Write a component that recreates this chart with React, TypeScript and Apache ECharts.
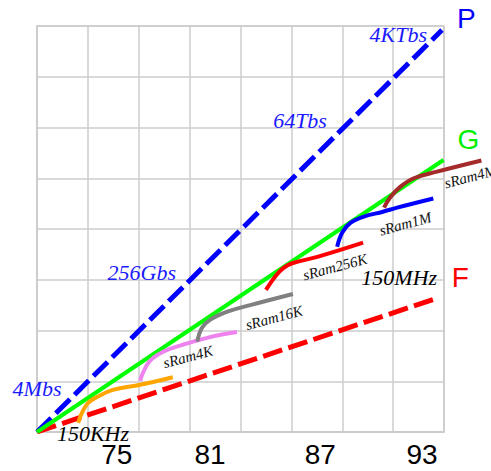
import React, { useEffect, useRef } from "react";
import * as echarts from "echarts";

// Grid coordinates are in "cell" units: 8 x 8 cells.
const pLine = [[0, 0], [7.96, 7.92]];
const gLine = [[0, 0], [7.99, 5.36]];
const fLine = [[0, 0], [7.87, 2.64]];

const orangeCurve = [[0.81, 0.18], [0.88, 0.37], [1.0, 0.57], [1.18, 0.69], [1.49, 0.83], [2.03, 0.93], [2.67, 1.08]];
const violetCurve = [[2.03, 1.01], [2.08, 1.16], [2.22, 1.4], [2.48, 1.58], [2.87, 1.72], [3.4, 1.87], [3.93, 1.97]];
const grayCurve = [[3.15, 1.78], [3.24, 2.05], [3.4, 2.21], [3.74, 2.37], [4.19, 2.5], [5.03, 2.72]];
const redCurve = [[4.5, 2.8], [4.68, 3.06], [4.84, 3.23], [5.03, 3.33], [5.51, 3.45], [6.41, 3.73]];
const blueCurve = [[5.9, 3.65], [6.0, 3.93], [6.16, 4.12], [6.41, 4.24], [6.8, 4.34], [7.08, 4.42], [7.79, 4.6]];
const brownCurve = [[6.88, 4.42], [7.0, 4.62], [7.2, 4.83], [7.47, 5.0], [7.93, 5.13], [8.81, 5.35]];

const tickLabels = ["75", "81", "87", "93"];
const tickPos = [1.57, 3.4, 5.57, 7.57];

const rateLabels = ["4KTbs", "64Tbs", "256Gbs", "4Mbs"];
const rateLabelPos = [[7.1, 7.83], [5.17, 6.13], [2.06, 3.14], [0.0, 0.85]];

const freqLabels = ["150MHz", "150KHz"];
const freqLabelPos = [[7.12, 3.04], [1.1, -0.03]];

const sramLabels = ["sRam4K", "sRam16K", "sRam256K", "sRam1M", "sRam4M"];
const sramLabelPos = [[2.97, 1.48], [4.66, 2.25], [5.86, 3.25], [7.24, 4.1], [8.52, 5.03]];

const letterLabels = ["P", "G", "F"];
const letterLabelPos = [[8.44, 8.15], [8.48, 5.76], [8.32, 3.04]];
const letterColors = ["#0000ff", "#00ee00", "#ff0000"];

const SERIF = "'Liberation Serif', 'Times New Roman', serif";
const SANS = "'Liberation Sans', Arial, sans-serif";

function lineSeries(data: number[][], color: string, dashed: boolean, z: number, gridIndex = 0) {
  return {
    type: "line",
    data,
    xAxisIndex: gridIndex,
    yAxisIndex: gridIndex,
    showSymbol: false,
    symbol: "none",
    smooth: dashed ? false : 0.4,
    clip: false,
    silent: true,
    z,
    lineStyle: {
      color,
      width: dashed ? 5 : 4,
      type: dashed ? [20, 6.5] : "solid",
      cap: "butt",
    },
  };
}

function textSeries(
  labels: string[],
  pos: number[][],
  opts: { color: string | string[]; size: number; family: string; italic: boolean; rotate: number }
) {
  return {
    type: "scatter",
    symbolSize: 0,
    clip: false,
    silent: true,
    z: 20,
    itemStyle: { opacity: 1 },
    data: labels.map((t, i) => ({
      value: pos[i],
      itemStyle: { opacity: 1 },
      label: {
        show: true,
        position: "inside",
        formatter: t,
        color: Array.isArray(opts.color) ? opts.color[i] : opts.color,
        opacity: 1,
        fontSize: opts.size,
        fontFamily: opts.family,
        fontStyle: opts.italic ? "italic" : "normal",
        rotate: opts.rotate,
        align: "center",
        verticalAlign: "middle",
        textBorderWidth: 0,
        textBorderColor: "transparent",
        textShadowBlur: 0,
      },
    })),
  };
}

export default function App() {
  const ref = useRef<HTMLDivElement>(null);
  useEffect(() => {
    if (!ref.current) return;
    const chart = echarts.init(ref.current, null, { renderer: "svg" });
    const axisCommon = {
      type: "value",
      min: 0,
      max: 8,
      interval: 1,
      axisLabel: { show: false },
      axisTick: { show: false },
      axisLine: { show: true, lineStyle: { color: "#cccccc", width: 1.5 } },
      splitLine: { show: true, lineStyle: { color: "#cccccc", width: 1.5 } },
    };
    const hiddenAxis = {
      type: "value",
      min: 0,
      interval: 1,
      show: false,
      splitLine: { show: false },
    };
    const cellW = 407 / 8;
    chart.setOption({
      animation: false,
      grid: [
        {
          left: 37,
          top: 26,
          width: 407,
          height: 406,
          show: true,
          borderColor: "#cccccc",
          borderWidth: 1.5,
        },
        // same scale, one cell wider, for the curve that runs past the right edge
        { left: 37, top: 26, width: cellW * 9, height: 406, show: false },
      ],
      xAxis: [
        { ...axisCommon, gridIndex: 0 },
        { ...hiddenAxis, max: 9, gridIndex: 1 },
      ],
      yAxis: [
        { ...axisCommon, gridIndex: 0 },
        { ...hiddenAxis, max: 8, gridIndex: 1 },
      ],
      series: [
        lineSeries(pLine, "#0000ff", true, 3),
        lineSeries(fLine, "#ff0000", true, 3),
        lineSeries(gLine, "#00ff00", false, 4),
        lineSeries(orangeCurve, "#ffa500", false, 5),
        lineSeries(violetCurve, "#ee82ee", false, 5),
        lineSeries(grayCurve, "#808080", false, 5),
        lineSeries(redCurve, "#ff0000", false, 5),
        lineSeries(blueCurve, "#0000ff", false, 5),
        lineSeries(brownCurve, "#a52a2a", false, 5, 1),
        textSeries(rateLabels, rateLabelPos, { color: "#1a1aff", size: 22, family: SERIF, italic: true, rotate: 0 }),
        textSeries(freqLabels, freqLabelPos, { color: "#000000", size: 22, family: SERIF, italic: true, rotate: 0 }),
        textSeries(sramLabels, sramLabelPos, { color: "#111111", size: 15, family: SERIF, italic: true, rotate: 15 }),
        textSeries(letterLabels, letterLabelPos, { color: letterColors, size: 28, family: SANS, italic: false, rotate: 0 }),
        textSeries(tickLabels, tickPos.map((x) => [x, -0.45]), { color: "#000000", size: 28, family: SANS, italic: false, rotate: 0 }),
      ],
    });
    return () => chart.dispose();
  }, []);
  return <div ref={ref} style={{ width: 491, height: 471, position: "absolute", left: 0, top: 0 }} />;
}
